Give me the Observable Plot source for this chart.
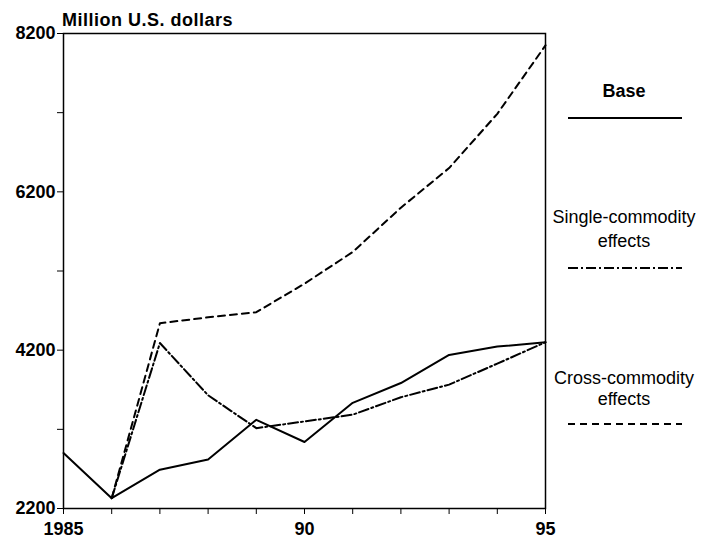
<!DOCTYPE html>
<html>
<head>
<meta charset="utf-8">
<script src="https://cdn.jsdelivr.net/npm/d3@7"></script>
<script src="https://cdn.jsdelivr.net/npm/@observablehq/plot@0.6"></script>
<style>
  html, body { margin: 0; padding: 0; background: #fff; }
  #chart { position: relative; width: 717px; height: 540px; }
  #chart svg { position: absolute; left: 0; top: 0; }
</style>
</head>
<body>
<div id="chart"></div>
<script>
const years = [1985, 1986, 1987, 1988, 1989, 1990, 1991, 1992, 1993, 1994, 1995];
const baseValues   = [2900, 2330, 2690, 2820, 3320, 3040, 3535, 3785, 4140, 4245, 4300];
const singleValues = [null, 2330, 4290, 3630, 3215, 3300, 3385, 3605, 3765, 4030, 4300];
const crossValues  = [null, 2330, 4540, 4615, 4680, 5040, 5440, 6000, 6500, 7185, 8050];

const seriesNames = ["Base", "Single-commodity effects", "Cross-commodity effects"];
const yTicks = [2200, 3200, 4200, 5200, 6200, 7200, 8200];
const yTickLabels = {2200: "2200", 4200: "4200", 6200: "6200", 8200: "8200"};
const xTickLabels = {1985: "1985", 1990: "90", 1995: "95"};
const yAxisTitle = "Million U.S. dollars";

const font = "'Liberation Sans', Arial, Helvetica, sans-serif";

function toRows(values) {
  return years.map((y, i) => ({year: y, value: values[i]})).filter(d => d.value != null);
}
const baseRows = toRows(baseValues);
const singleRows = toRows(singleValues);
const crossRows = toRows(crossValues);

const styles = [
  {dash: null},
  {dash: "10,3,2,3"},
  {dash: "7,5"}
];

const plot = Plot.plot({
  width: 717,
  height: 540,
  marginLeft: 63,
  marginTop: 33,
  marginRight: 172,
  marginBottom: 32,
  style: {fontFamily: font, background: "#fff", color: "#000", overflow: "visible"},
  x: {domain: [1985, 1995]},
  y: {domain: [2200, 8200]},
  marks: [
    Plot.frame({stroke: "#000", strokeWidth: 1.5}),
    Plot.axisY({
      ticks: yTicks, tickSize: 6, tickPadding: 2,
      tickFormat: d => yTickLabels[d] ?? "",
      fontSize: 18, fontWeight: "bold", label: null
    }),
    Plot.axisX({
      ticks: years, tickSize: 6, tickPadding: 8,
      tickFormat: d => xTickLabels[d] ?? "",
      fontSize: 18, fontWeight: "bold", label: null
    }),
    Plot.lineY(baseRows, {x: "year", y: "value", stroke: "#000", strokeWidth: 2}),
    Plot.lineY(singleRows, {x: "year", y: "value", stroke: "#000", strokeWidth: 2, strokeDasharray: styles[1].dash}),
    Plot.lineY(crossRows, {x: "year", y: "value", stroke: "#000", strokeWidth: 2, strokeDasharray: styles[2].dash})
  ]
});

document.getElementById("chart").appendChild(plot);

const svg = d3.select(plot);
svg.append("text")
  .attr("x", 62).attr("y", 26)
  .attr("text-anchor", "start")
  .attr("font-family", font).attr("font-size", 18).attr("font-weight", "bold")
  .attr("letter-spacing", "0.5px")
  .attr("fill", "#000")
  .text(yAxisTitle);

// legend
const legendLayout = [
  {lines: ["Base"], textY: [97], lineY: 118, bold: true},
  {lines: ["Single-commodity", "effects"], textY: [223, 247], lineY: 268, bold: false},
  {lines: ["Cross-commodity", "effects"], textY: [384, 405], lineY: 424, bold: false}
];
const lg = svg.append("g");
legendLayout.forEach((item, i) => {
  item.lines.forEach((t, j) => {
    lg.append("text")
      .attr("x", 624).attr("y", item.textY[j])
      .attr("text-anchor", "middle")
      .attr("font-family", font).attr("font-size", 18)
      .attr("font-weight", item.bold ? "bold" : "normal")
      .attr("fill", "#000")
      .text(t);
  });
  lg.append("line")
    .attr("x1", 568).attr("x2", 682)
    .attr("y1", item.lineY).attr("y2", item.lineY)
    .attr("stroke", "#000").attr("stroke-width", 2)
    .attr("stroke-dasharray", styles[i].dash);
});
</script>
</body>
</html>
